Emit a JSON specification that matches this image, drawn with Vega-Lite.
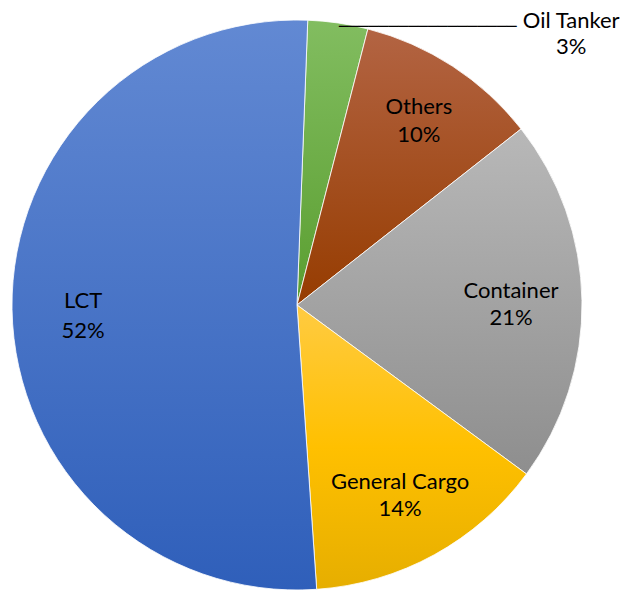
{
  "$schema": "https://vega.github.io/schema/vega-lite/v6.json",
  "width": 594,
  "height": 570,
  "padding": {"left": 0, "top": 20, "right": 33, "bottom": 0},
  "autosize": {"type": "none"},
  "background": "white",
  "config": {"view": {"stroke": null}, "text": {"font": "Lato", "fontSize": 22, "color": "#000000"}},
  "data": {
    "values": [
      {"category": "Oil Tanker", "share": 3.4},
      {"category": "Others", "share": 10.4},
      {"category": "Container", "share": 20.7},
      {"category": "General Cargo", "share": 13.8},
      {"category": "LCT", "share": 51.7}
    ]
  },
  "transform": [
    {"window": [{"op": "sum", "field": "share", "as": "cum"}], "frame": [null, 0]},
    {"calculate": "datum.cum - datum.share", "as": "start"},
    {"calculate": "datum.cum - datum.share / 2", "as": "mid"},
    {"calculate": "[datum.category, format(datum.share, '.0f') + '%']", "as": "lbl"}
  ],
  "layer": [
    {
      "mark": {"type": "arc", "stroke": "#ffffff", "strokeWidth": 0.8},
      "encoding": {
        "theta": {"field": "start", "type": "quantitative", "scale": {"domain": [0, 100], "range": [0.0377, 6.3209]}},
        "theta2": {"field": "cum"},
        "fill": {
          "condition": [
            {"test": "datum.category === 'LCT'", "value": {"gradient": "linear", "x1": 0, "y1": 0, "x2": 0, "y2": 1, "stops": [{"offset": 0, "color": "#6289D3"}, {"offset": 1, "color": "#2F5FBA"}]}},
            {"test": "datum.category === 'Oil Tanker'", "value": {"gradient": "linear", "x1": 0, "y1": 0, "x2": 0, "y2": 1, "stops": [{"offset": 0, "color": "#82BD60"}, {"offset": 1, "color": "#5A9E30"}]}},
            {"test": "datum.category === 'Others'", "value": {"gradient": "linear", "x1": 0, "y1": 0, "x2": 0, "y2": 1, "stops": [{"offset": 0, "color": "#B36443"}, {"offset": 1, "color": "#963C00"}]}},
            {"test": "datum.category === 'Container'", "value": {"gradient": "linear", "x1": 0, "y1": 0, "x2": 0, "y2": 1, "stops": [{"offset": 0, "color": "#B8B8B8"}, {"offset": 1, "color": "#8E8E8E"}]}}
          ],
          "value": {"gradient": "linear", "x1": 0, "y1": 0, "x2": 0, "y2": 1, "stops": [{"offset": 0, "color": "#FFCB42"}, {"offset": 0.5, "color": "#FFC000"}, {"offset": 1, "color": "#E6AE00"}]}
        }
      }
    },
    {
      "transform": [{"filter": "datum.category === 'Container' || datum.category === 'General Cargo'"}],
      "mark": {"type": "text", "align": "center", "baseline": "middle", "lineHeight": 27.5, "radius": 214, "dy": -11},
      "encoding": {
        "theta": {"field": "mid", "type": "quantitative", "scale": {"domain": [0, 100], "range": [0.0377, 6.3209]}},
        "text": {"field": "lbl"}
      }
    },
    {
      "transform": [{"filter": "datum.category === 'LCT'"}],
      "mark": {"type": "text", "align": "center", "baseline": "middle", "lineHeight": 30, "radius": 214, "dy": -7},
      "encoding": {
        "theta": {"field": "mid", "type": "quantitative", "scale": {"domain": [0, 100], "range": [0.0377, 6.3209]}},
        "text": {"field": "lbl"}
      }
    },
    {
      "transform": [{"filter": "datum.category === 'Others'"}],
      "mark": {"type": "text", "align": "center", "baseline": "middle", "lineHeight": 28, "radius": 223, "dy": -11},
      "encoding": {
        "theta": {"field": "mid", "type": "quantitative", "scale": {"domain": [0, 100], "range": [0.0377, 6.3209]}},
        "text": {"field": "lbl"}
      }
    },
    {
      "transform": [{"filter": "datum.category === 'Oil Tanker'"}],
      "mark": {"type": "text", "align": "center", "baseline": "middle", "lineHeight": 26, "radius": 387, "thetaOffset": 0.643, "dy": -11},
      "encoding": {
        "theta": {"field": "mid", "type": "quantitative", "scale": {"domain": [0, 100], "range": [0.0377, 6.3209]}},
        "text": {"field": "lbl"}
      }
    },
    {
      "transform": [{"filter": "datum.category === 'Oil Tanker'"}],
      "mark": {"type": "text", "align": "right", "baseline": "alphabetic", "font": "DejaVu Sans Mono", "fontSize": 16.4, "radius": 350.5, "thetaOffset": 0.533, "text": "──────────────────"},
      "encoding": {
        "theta": {"field": "mid", "type": "quantitative", "scale": {"domain": [0, 100], "range": [0.0377, 6.3209]}}
      }
    }
  ]
}
